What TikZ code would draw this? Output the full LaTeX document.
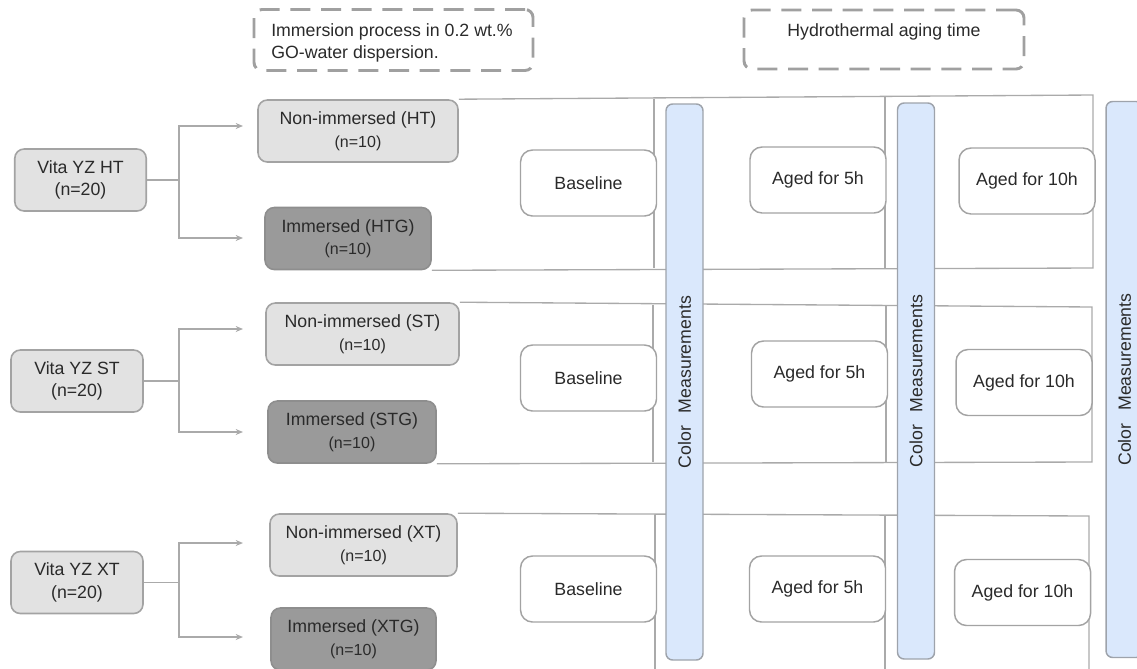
\documentclass[tikz,border=0pt]{standalone}
\usepackage{fontspec}
\setmainfont{Liberation Sans}
\usetikzlibrary{arrows.meta}
\definecolor{txt}{HTML}{2A2A2A}
\definecolor{lgfill}{HTML}{E2E2E2}
\definecolor{dgfill}{HTML}{9A9A9A}
\definecolor{bord}{HTML}{A3A3A3}
\definecolor{dbord}{HTML}{8E8E8E}
\definecolor{barfill}{HTML}{DAE8FC}
\definecolor{barbord}{HTML}{9EA3AB}
\definecolor{framec}{HTML}{AAAAAA}
\definecolor{dashc}{HTML}{A0A0A0}
\newcommand\nten[1]{{\fontsize{12}{16.9}\selectfont #1}}
\pgfdeclarelayer{bg}
\pgfsetlayers{bg,main}
\begin{document}
\begin{tikzpicture}[x=0.75pt,y=-0.75pt,
  font=\fontsize{13.3}{16.9}\selectfont, text=txt,
  box/.style={draw=bord, line width=1.2pt, rounded corners=7pt, align=center, inner sep=0pt, minimum height=46.5pt},
  lbox/.style={box, fill=lgfill},
  dbox/.style={box, fill=dgfill, draw=dbord},
  stage/.style={draw=bord, fill=white, line width=1.1pt, rounded corners=9pt, minimum width=102pt, minimum height=49.5pt, inner sep=0pt},
  bar/.style={draw=barbord, fill=barfill, line width=1.1pt, rounded corners=5pt, minimum width=417pt, minimum height=27.75pt, inner sep=0pt, rotate=90},
  dashbox/.style={draw=dashc, line width=2.2pt, dash pattern=on 15pt off 8pt, rounded corners=6pt, inner sep=0pt},
  fr/.style={draw=framec, line width=1pt},
  conn/.style={draw=framec, line width=1.2pt, -{Stealth[length=5.5pt,width=4.5pt]}}
]
\useasboundingbox (0,0) rectangle (1137,668);

% dashed header boxes
\node[dashbox, minimum width=209.25pt, minimum height=45.75pt] (d1) at (393.5,40) {};
\node[anchor=west, align=left, inner sep=0pt] (d1t) at (271,43) {Immersion process in 0.2 wt.\%\\GO-water dispersion.};
\node[dashbox, minimum width=210pt, minimum height=44.25pt] (d2) at (884,39.5) {};
\node[inner sep=0pt] (d2t) at (884,32) {Hydrothermal aging time};

% material boxes
\node[lbox, minimum width=98.6pt] (vht) at (80.5,180) {Vita YZ HT\\(n=20)};
\node[lbox, minimum width=99pt] (vst) at (77,381) {Vita YZ ST\\(n=20)};
\node[lbox, minimum width=99pt] (vxt) at (77,582.5) {Vita YZ XT\\(n=20)};

% groups
\node[lbox, minimum width=150pt] (nht) at (358,131) {Non-immersed (HT)\\\nten{(n=10)}};
\node[dbox, minimum width=124.5pt] (iht) at (348,238.5) {Immersed (HTG)\\\nten{(n=10)}};
\node[lbox, minimum width=144.75pt] (nst) at (362.5,334) {Non-immersed (ST)\\\nten{(n=10)}};
\node[dbox, minimum width=126pt] (ist) at (352,432) {Immersed (STG)\\\nten{(n=10)}};
\node[lbox, minimum width=140.25pt] (nxt) at (363.5,545) {Non-immersed (XT)\\\nten{(n=10)}};
\node[dbox, minimum width=123.75pt] (ixt) at (353.5,639) {Immersed (XTG)\\\nten{(n=10)}};

% stage boxes
\node[stage] (b1) at (588.5,183) {Baseline};
\node[stage] (b2) at (588.5,378) {Baseline};
\node[stage] (b3) at (588.5,589) {Baseline};
\node[stage] (a51) at (818,180) {Aged for 5h};
\node[stage] (a52) at (819.5,374) {Aged for 5h};
\node[stage] (a53) at (817.5,589) {Aged for 5h};
\node[stage] (a101) at (1027,181) {Aged for 10h};
\node[stage] (a102) at (1024,382.5) {Aged for 10h};
\node[stage] (a103) at (1022.5,592.5) {Aged for 10h};

% measurement bars
\node[bar] (cm1) at (684.5,382) {Color\hspace{9.5pt}Measurements};
\node[bar] (cm2) at (916,381) {Color\hspace{9.5pt}Measurements};
\node[bar] (cm3) at (1124.5,379.5) {Color\hspace{9.5pt}Measurements};

% connectors
\coordinate (jht) at (179,180);
\coordinate (eht1) at (243,126);
\coordinate (eht2) at (243,238);
\draw[conn] (vht.east) -- (jht) |- (eht1);
\draw[conn] (jht) |- (eht2);
\coordinate (jst) at (179,381);
\coordinate (est1) at (243,329);
\coordinate (est2) at (243,432);
\draw[conn] (vst.east) -- (jst) |- (est1);
\draw[conn] (jst) |- (est2);
\coordinate (jxt) at (179,582.5);
\coordinate (ext1) at (243,543);
\coordinate (ext2) at (243,637);
\draw[conn] (vxt.east) -- (jxt) |- (ext1);
\draw[conn] (jxt) |- (ext2);

% frames
\coordinate (g1tr) at (1093,95);
\coordinate (g1br) at (1093,268);
\coordinate (g1at) at (654,98.5);
\coordinate (g1ab) at (654,268);
\coordinate (g1bt) at (885,96.6);
\coordinate (g1bb) at (885,268);
\coordinate (g2tr) at (1092,307);
\coordinate (g2br) at (1092,462);
\coordinate (g2at) at (653,304.5);
\coordinate (g2ab) at (653,462);
\coordinate (g2bt) at (886,306);
\coordinate (g2bb) at (886,462);
\coordinate (g3tr) at (1089,516);
\coordinate (g3br) at (1089,690);
\coordinate (g3at) at (655,515);
\coordinate (g3ab) at (655,690);
\coordinate (g3bt) at (885,515.5);
\coordinate (g3bb) at (885,690);
\begin{pgfonlayer}{bg}
\draw[fr] (nht.north east) -- (g1tr) -- (g1br) -- (iht.south east);
\draw[fr] (g1at) -- (g1ab);
\draw[fr] (g1bt) -- (g1bb);
\draw[fr] (nst.north east) -- (g2tr) -- (g2br) -- (ist.south east);
\draw[fr] (g2at) -- (g2ab);
\draw[fr] (g2bt) -- (g2bb);
\draw[fr] (nxt.north east) -- (g3tr) -- (g3br);
\draw[fr] (g3at) -- (g3ab);
\draw[fr] (g3bt) -- (g3bb);
\end{pgfonlayer}
\end{tikzpicture}
\end{document}
